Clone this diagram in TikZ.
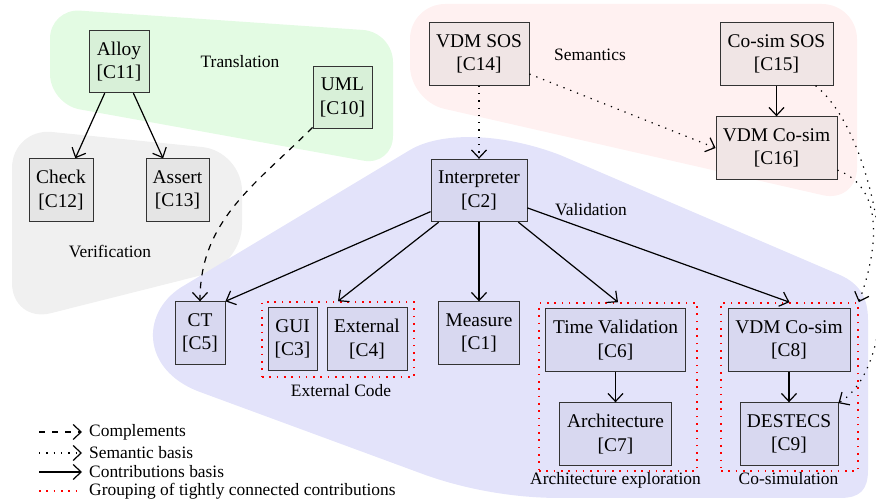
\documentclass[tikz,border=0pt]{standalone}
\usepackage{fontspec}
\setmainfont{Liberation Serif}
\usetikzlibrary{arrows.meta}
\definecolor{greenblob}{HTML}{E3FBE3}
\definecolor{greenbox}{HTML}{D8F0D8}
\definecolor{grayblob}{HTML}{F0F0F0}
\definecolor{graybox}{HTML}{E5E5E5}
\definecolor{redblob}{HTML}{FFF1F1}
\definecolor{redbox}{HTML}{F0E5E5}
\definecolor{blueblob}{HTML}{E3E3FA}
\definecolor{bluebox}{HTML}{D8D8F0}
\begin{document}
\begin{tikzpicture}[x=1pt,y=1pt,
  box/.style={draw=black!80, line width=0.85pt, rectangle, align=center, inner xsep=6pt, inner ysep=2pt, minimum height=62.5pt, font=\fontsize{19.4}{23.3}\selectfont},
  lbl/.style={inner sep=0pt, anchor=base, font=\fontsize{17.4}{20}\selectfont},
  legtxt/.style={inner sep=0pt, anchor=base west, font=\fontsize{17.4}{20}\selectfont},
  grpline/.style={draw=red, line width=1.6pt, dash pattern=on 1.6pt off 5.7pt},
  grp/.style={grpline, rectangle, inner sep=0pt},
  contrib/.style={line width=1.2pt, -{Straight Barb[length=8pt,width=15pt,line width=1.2pt]}},
  semantic/.style={contrib, dash pattern=on 1.3pt off 6pt},
  complement/.style={contrib, dash pattern=on 6.5pt off 6.5pt},
]
\useasboundingbox (0,0) rectangle (876,-502);

% regions
\fill[grayblob, rounded corners=40pt] (12,-128) -- (242,-151) -- (242,-265) -- (12,-323) -- cycle;
\fill[greenblob, rounded corners=30pt] (50,-8.6) -- (393,-32) -- (393,-166) -- (50,-104) -- cycle;
\fill[redblob, rounded corners=35pt] (410,-4) -- (857,-4) -- (857,-203) -- (410,-101) -- cycle;
\fill[blueblob] (185,-285) -- (410,-150) .. controls (440,-132) and (500,-132) .. (560,-155)
  -- (840,-275) .. controls (860,-284) and (868,-298) .. (868,-320)
  -- (868,-470) .. controls (868,-490) and (860,-498) .. (840,-498)
  -- (560,-498) .. controls (510,-498) and (460,-488) .. (420,-473)
  -- (200,-392) .. controls (140,-370) and (140,-310) .. (185,-285) -- cycle;

% region labels
\node[lbl] (ltrans) at (240,-68) {Translation};
\node[lbl] (lverif) at (110,-258) {Verification};
\node[lbl] (lsem) at (590,-60.7) {Semantics};
\node[lbl] (lval) at (591,-216) {Validation};

% groups
\node[grp, minimum width=152pt, minimum height=75pt] (extgrp) at (338,-339.5) {};
\node[grp, minimum width=158pt, minimum height=168pt] (archgrp) at (618,-387) {};
\node[grp, minimum width=137pt, minimum height=168pt] (cosimgrp) at (789.5,-387) {};
\node[lbl] (lext) at (341,-396.5) {External Code};
\node[lbl] (larch) at (615.5,-485) {Architecture exploration};
\node[lbl] (lcosim) at (788.5,-485) {Co-simulation};

% boxes
\node[box, fill=greenbox, minimum width=60pt] (alloy) at (119,-61.5) {Alloy\\{[C11]}};
\node[box, fill=greenbox, minimum width=59pt] (uml) at (342.5,-97.5) {UML\\{[C10]}};
\node[box, fill=graybox, minimum width=64pt] (check) at (61,-190) {Check\\{[C12]}};
\node[box, fill=graybox, minimum width=63pt] (assert) at (177.5,-190) {Assert\\{[C13]}};
\node[box, fill=redbox, minimum width=100pt] (vdmsos) at (479,-54) {VDM SOS\\{[C14]}};
\node[box, fill=redbox, minimum width=113pt] (cosimsos) at (776.5,-54) {Co-sim SOS\\{[C15]}};
\node[box, fill=redbox, minimum width=121pt] (vdmcosimA) at (776.5,-148) {VDM Co-sim\\{[C16]}};
\node[box, fill=bluebox, minimum width=96pt] (interp) at (479,-190.5) {Interpreter\\{[C2]}};
\node[box, fill=bluebox, minimum width=50pt] (ct) at (200,-333) {CT\\{[C5]}};
\node[box, fill=bluebox, minimum width=49pt] (gui) at (292.5,-339) {GUI\\{[C3]}};
\node[box, fill=bluebox, minimum width=80pt] (external) at (367,-339) {External\\{[C4]}};
\node[box, fill=bluebox, minimum width=81pt] (measure) at (479,-333) {Measure\\{[C1]}};
\node[box, fill=bluebox, minimum width=140pt] (timeval) at (615.5,-340) {Time Validation\\{[C6]}};
\node[box, fill=bluebox, minimum width=112pt] (archi) at (615.5,-434) {Architecture\\{[C7]}};
\node[box, fill=bluebox, minimum width=122pt] (vdmcosimB) at (789,-340) {VDM Co-sim\\{[C8]}};
\node[box, fill=bluebox, minimum width=98pt] (destecs) at (789,-434) {DESTECS\\{[C9]}};

% connectors
\draw[contrib] (alloy) -- (check);
\draw[contrib] (alloy) -- (assert);
\draw[complement] (uml) to[out=225,in=90] (ct);
\draw[contrib] (interp) -- (ct.north east);
\draw[contrib] (interp) -- (extgrp.north);
\draw[contrib] (interp) -- (measure);
\draw[contrib] (interp) -- (archgrp.north);
\draw[contrib] (interp) -- (cosimgrp.north);
\draw[semantic] (vdmsos) -- (interp);
\draw[semantic] (vdmsos) -- (vdmcosimA.west);
\draw[contrib] (cosimsos) -- (vdmcosimA);
\draw[semantic] (cosimsos) to[out=-39,in=32,looseness=0.7] (destecs);
\draw[semantic] (vdmcosimA) to[out=-20,in=70] (cosimgrp.north east);
\draw[contrib] (timeval) -- (archi);
\draw[contrib] (vdmcosimB) -- (destecs);

% legend
\coordinate (lg1a) at (39,-432); \coordinate (lg1b) at (82,-432);
\coordinate (lg2a) at (39,-453); \coordinate (lg2b) at (82,-453);
\coordinate (lg3a) at (39,-472); \coordinate (lg3b) at (82,-472);
\coordinate (lg4a) at (39,-491); \coordinate (lg4b) at (78,-491);
\draw[complement, dash pattern=on 6pt off 7pt] (lg1a) -- (lg1b);
\draw[semantic] (lg2a) -- (lg2b);
\draw[contrib] (lg3a) -- (lg3b);
\draw[grpline] (lg4a) -- (lg4b);
\node[legtxt] (lg1t) at (89,-436.5) {Complements};
\node[legtxt] (lg2t) at (89,-459) {Semantic basis};
\node[legtxt] (lg3t) at (89,-478) {Contributions basis};
\node[legtxt] (lg4t) at (89,-496) {Grouping of tightly connected contributions};
\end{tikzpicture}
\end{document}
